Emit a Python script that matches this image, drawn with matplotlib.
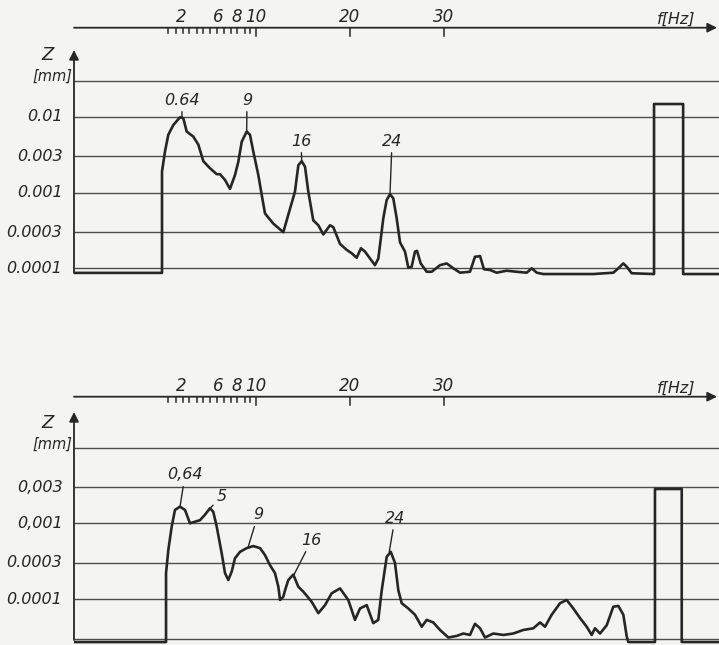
import matplotlib
matplotlib.use("Agg")
import matplotlib.pyplot as plt
from matplotlib import transforms

# upper spectrum: frequency [Hz] and amplitude Z [mm]
freq_top = [-9.4, 0.0, 0.0, 0.32, 0.67, 1.2, 1.92, 2.27, 2.63, 3.33, 3.87, 4.4, 5.11, 5.83, 6.18,
            6.71, 7.24, 7.77, 8.13, 8.49, 9.02, 9.37, 9.72, 10.26, 10.62, 10.97, 11.85, 12.92,
            13.45, 14.16, 14.52, 14.88, 15.23, 15.58, 16.11, 16.65, 17.18, 17.89, 18.24, 18.96,
            19.67, 20.2, 20.73, 21.19, 21.62, 22.15, 22.68, 23.04, 23.57, 23.93, 24.28, 24.63,
            24.99, 25.35, 25.88, 26.23, 26.59, 26.94, 27.16, 27.55, 28.19, 28.72, 29.61, 30.32,
            31.02, 31.74, 32.8, 33.33, 33.87, 34.29, 34.93, 35.64, 36.71, 37.77, 38.84, 39.38,
            39.91, 40.61, 42.39, 45.93, 48.07, 48.6, 49.13, 49.49, 50.02, 52.4, 52.4, 55.5, 55.5,
            59.4]
z_top = [8.7e-5, 8.7e-5, 1.9e-3, 3.5e-3, 5.8e-3, 7.8e-3, 9.9e-3, 9.6e-3, 6.4e-3, 5.5e-3, 4.3e-3,
         2.6e-3, 2.1e-3, 1.75e-3, 1.75e-3, 1.47e-3, 1.12e-3, 1.7e-3, 2.56e-3, 4.7e-3, 6.4e-3,
         5.8e-3, 3.5e-3, 1.7e-3, 9.3e-4, 5.3e-4, 3.9e-4, 3.0e-4, 5.1e-4, 1.03e-3, 2.3e-3, 2.6e-3,
         2.2e-3, 1.03e-3, 4.3e-4, 3.7e-4, 2.8e-4, 3.7e-4, 3.5e-4, 2.1e-4, 1.75e-4, 1.58e-4,
         1.38e-4, 1.84e-4, 1.66e-4, 1.35e-4, 1.1e-4, 1.35e-4, 4.6e-4, 8.0e-4, 9.5e-4, 8.4e-4,
         4.6e-4, 2.2e-4, 1.66e-4, 1.02e-4, 1.05e-4, 1.66e-4, 1.7e-4, 1.16e-4, 9.0e-5, 9.0e-5,
         1.1e-4, 1.16e-4, 1.0e-4, 8.75e-5, 9.0e-5, 1.42e-4, 1.45e-4, 9.7e-5, 9.5e-5, 8.75e-5,
         9.3e-5, 9.0e-5, 8.75e-5, 1.0e-4, 8.75e-5, 8.4e-5, 8.4e-5, 8.4e-5, 8.75e-5, 1.0e-4,
         1.16e-4, 1.05e-4, 8.6e-5, 8.4e-5, 1.48e-2, 1.48e-2, 8.4e-5, 8.4e-5]

# lower spectrum
freq_bottom = [-9.4, 0.43, 0.43, 0.67, 1.03, 1.38, 1.92, 2.45, 2.98, 3.51, 4.05, 4.58, 5.11, 5.46,
               5.83, 6.36, 6.71, 7.06, 7.42, 7.77, 8.31, 9.02, 9.72, 10.44, 10.97, 11.5, 12.03,
               12.39, 12.57, 12.92, 13.1, 13.45, 13.98, 14.52, 15.05, 15.94, 16.65, 17.36, 18.07,
               18.96, 19.84, 20.55, 21.09, 21.8, 22.5, 23.03, 23.4, 23.93, 24.36, 24.81, 25.17,
               25.53, 26.23, 26.94, 27.66, 28.19, 28.89, 29.61, 30.49, 31.38, 32.09, 32.8, 33.33,
               33.87, 34.4, 35.28, 36.35, 37.41, 38.48, 39.54, 40.26, 40.79, 41.5, 42.39, 43.1,
               43.8, 44.52, 45.23, 45.76, 46.11, 46.65, 47.36, 48.06, 48.6, 49.13, 49.49, 49.66,
               52.5, 52.5, 55.35, 55.35, 59.4]
z_bottom = [2.7e-5, 2.7e-5, 2.2e-4, 4.4e-4, 9.0e-4, 1.5e-3, 1.66e-3, 1.5e-3, 1.0e-3, 1.05e-3,
            1.1e-3, 1.3e-3, 1.58e-3, 1.42e-3, 9.0e-4, 4.0e-4, 2.2e-4, 1.78e-4, 2.3e-4, 3.45e-4,
            4.2e-4, 4.7e-4, 5.0e-4, 4.7e-4, 3.8e-4, 2.8e-4, 2.2e-4, 1.45e-4, 9.7e-5, 1.07e-4,
            1.3e-4, 1.78e-4, 2.1e-4, 1.45e-4, 1.25e-4, 9.2e-5, 6.5e-5, 8.3e-5, 1.19e-4, 1.38e-4,
            9.7e-5, 5.3e-5, 7.5e-5, 8.3e-5, 4.8e-5, 5.3e-5, 1.3e-4, 3.6e-4, 4.2e-4, 3.0e-4,
            1.3e-4, 8.8e-5, 7.5e-5, 6.2e-5, 4.3e-5, 5.3e-5, 4.9e-5, 3.9e-5, 3.1e-5, 3.25e-5,
            3.5e-5, 3.35e-5, 4.7e-5, 4.1e-5, 3.1e-5, 3.5e-5, 3.35e-5, 3.5e-5, 3.9e-5, 4.1e-5,
            4.9e-5, 4.3e-5, 6.2e-5, 8.8e-5, 9.7e-5, 7.5e-5, 5.6e-5, 4.3e-5, 3.35e-5, 4.1e-5,
            3.5e-5, 4.5e-5, 7.9e-5, 8.1e-5, 6.2e-5, 3.2e-5, 2.7e-5, 2.7e-5, 2.84e-3, 2.84e-3,
            2.7e-5, 2.7e-5]

# horizontal reference lines and their labels
grid_top = [3e-2, 1e-2, 3e-3, 1e-3, 3e-4, 1e-4]
grid_top_labels = ["", "0.01", "0.003", "0.001", "0.0003", "0.0001"]
grid_bottom = [1e-2, 3e-3, 1e-3, 3e-4, 1e-4, 3e-5]
grid_bottom_labels = ["", "0,003", "0,001", "0.0003", "0.0001", ""]

# frequency scale
freq_labels = [2, 6, 8, 10, 20, 30]
freq_minor = [0.64, 1.5, 2.2, 2.9, 3.7, 4.4, 5.1, 5.9, 6.6, 7.3, 8.0, 8.8, 9.4]
freq_major = [10, 20, 30]

# peak markers: label, peak position, label position
peak_top_labels = ["0.64", "9", "16", "24"]
peak_top_f = [2.13, 9.02, 14.88, 24.28]
peak_top_z = [9.7e-3, 6.4e-3, 2.6e-3, 9.5e-4]
peak_top_text = [(2.13, 1.67e-2), (9.05, 1.67e-2), (14.8, 4.8e-3), (24.5, 4.8e-3)]

peak_bottom_labels = ["0,64", "5", "9", "16", "24"]
peak_bottom_f = [1.92, 5.11, 9.16, 14.06, 24.2]
peak_bottom_z = [1.66e-3, 1.58e-3, 4.8e-4, 2.1e-4, 4.2e-4]
peak_bottom_text = [(2.45, 4.35e-3), (6.39, 2.25e-3), (10.22, 1.29e-3), (15.94, 6.0e-4),
                    (24.81, 1.17e-3)]

BG = "#f4f4f2"
INK = "#262626"
GRID = "#4d4d4d"

W, H = 719, 645
PX_HZ = 9.39     # pixels per Hz
F0_PX = 162      # pixel column of 0 Hz
DEC_PX = 75.7    # pixels per decade
AX_PX = 74       # pixel column of the Z axis

fig = plt.figure(figsize=(W / 100, H / 100), dpi=100, facecolor=BG)


def draw_panel(top_px, bot_px, ref_px, fax_px, tip_px, base_px, zlab_px,
               freq, z, grid, grid_labels, p_labels, p_f, p_z, p_text):
    ax = fig.add_axes([AX_PX / W, 1 - bot_px / H, 1 - AX_PX / W, (bot_px - top_px) / H])
    ax.set_facecolor(BG)
    ax.set_yscale("log")
    xmin, xmax = (AX_PX - F0_PX) / PX_HZ, (W - F0_PX) / PX_HZ
    ax.set_xlim(xmin, xmax)
    ax.set_ylim(10 ** (-4 - (bot_px - ref_px) / DEC_PX), 10 ** (-4 + (ref_px - top_px) / DEC_PX))
    ax.axis("off")

    def val(p):
        return 10 ** (-4 + (ref_px - p) / DEC_PX)

    # reference lines
    lab_tr = transforms.blended_transform_factory(ax.transAxes, ax.transData)
    for g, lab in zip(grid, grid_labels):
        ax.axhline(g, color=GRID, lw=1.0, zorder=1)
        if lab:
            ax.text(-0.018, g, lab, transform=lab_tr, ha="right", va="center",
                    style="italic", fontsize=11.5, color=INK)

    # spectrum
    ax.plot(freq, z, color=INK, lw=1.9, solid_joinstyle="round", zorder=3)

    # Z axis with arrow
    arrow = dict(arrowstyle="-|>", color=INK, lw=1.3, mutation_scale=14, shrinkA=0, shrinkB=0)
    ax.annotate("", xy=(xmin, val(tip_px)), xytext=(xmin, val(base_px)),
                arrowprops=arrow, annotation_clip=False)
    fig.text(48 / W, 1 - zlab_px / H, "Z", style="italic", fontsize=13, color=INK,
             ha="center", va="center")
    fig.text(52 / W, 1 - (zlab_px + 21) / H, "[mm]", style="italic", fontsize=10.5,
             color=INK, ha="center", va="center")

    # frequency axis on top
    fv = val(fax_px)
    ax.annotate("", xy=((717 - F0_PX) / PX_HZ, fv), xytext=(xmin, fv),
                arrowprops=arrow, annotation_clip=False)
    for f in freq_minor:
        ax.plot([f, f], [fv, fv * 10 ** (-5 / DEC_PX)], color=INK, lw=1.1, clip_on=False)
    for f in freq_major:
        ax.plot([f, f], [fv, fv * 10 ** (-8 / DEC_PX)], color=INK, lw=1.1, clip_on=False)
    for f in freq_labels:
        ax.annotate(str(f), xy=(f, fv), xytext=(0, 1), textcoords="offset points",
                    ha="center", va="bottom", style="italic", fontsize=12, color=INK,
                    annotation_clip=False)
    ax.annotate("f[Hz]", xy=((676 - F0_PX) / PX_HZ, fv), xytext=(0, 1),
                textcoords="offset points", ha="center", va="bottom", style="italic",
                fontsize=11.5, color=INK, annotation_clip=False)

    # peak labels
    for lab, f, zz, (tf, tz) in zip(p_labels, p_f, p_z, p_text):
        ax.annotate(lab, xy=(f, zz), xytext=(tf, tz), ha="center", va="center",
                    style="italic", fontsize=11.5, color=INK,
                    arrowprops=dict(arrowstyle="-", color=INK, lw=1.0, shrinkA=1, shrinkB=0))
    return ax


draw_panel(0, 290, 268.3, 27.7, 50, 273, 55, freq_top, z_top, grid_top, grid_top_labels,
           peak_top_labels, peak_top_f, peak_top_z, peak_top_text)
draw_panel(300, 645, 599, 396.7, 412, 640, 423, freq_bottom, z_bottom, grid_bottom,
           grid_bottom_labels, peak_bottom_labels, peak_bottom_f, peak_bottom_z, peak_bottom_text)

fig.savefig("out.png", dpi=100, facecolor=BG)
